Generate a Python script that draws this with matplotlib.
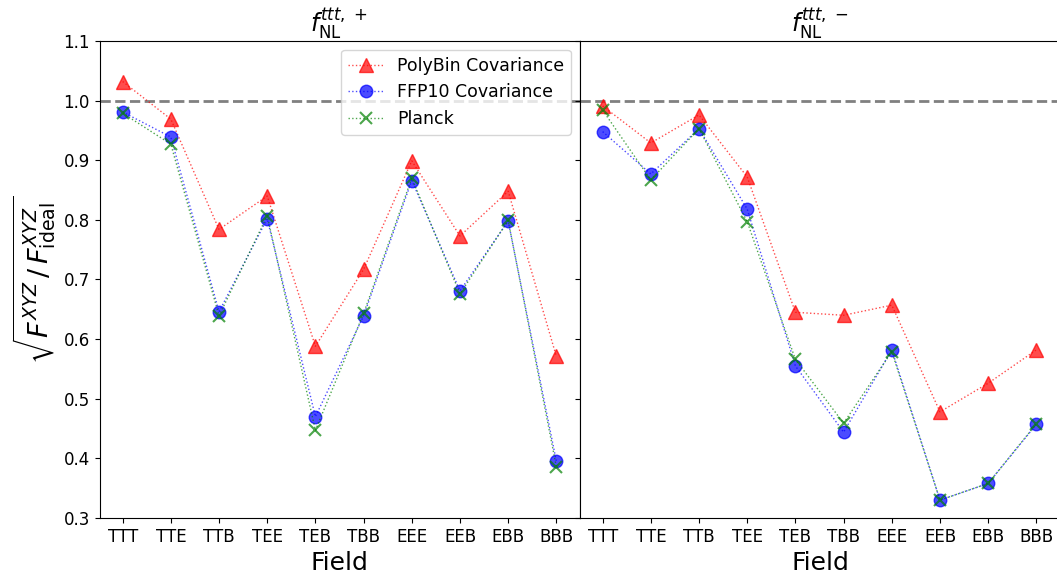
import matplotlib
matplotlib.use("Agg")
import matplotlib.pyplot as plt
import numpy as np

fields = ["TTT", "TTE", "TTB", "TEE", "TEB", "TBB", "EEE", "EEB", "EBB", "BBB"]

# f_NL^{ttt,+}
polybin_plus = [1.032, 0.969, 0.784, 0.840, 0.588, 0.717, 0.899, 0.773, 0.848, 0.571]
ffp10_plus = [0.981, 0.939, 0.646, 0.802, 0.470, 0.639, 0.866, 0.681, 0.798, 0.395]
planck_plus = [0.979, 0.927, 0.639, 0.807, 0.447, 0.643, 0.870, 0.676, 0.799, 0.386]

# f_NL^{ttt,-}
polybin_minus = [0.991, 0.929, 0.976, 0.872, 0.645, 0.640, 0.657, 0.478, 0.526, 0.582]
ffp10_minus = [0.948, 0.877, 0.953, 0.818, 0.555, 0.444, 0.582, 0.330, 0.358, 0.457]
planck_minus = [0.984, 0.867, 0.953, 0.797, 0.566, 0.459, 0.579, 0.330, 0.358, 0.458]

titles = [r"$f_{\rm NL}^{ttt,\,+}$", r"$f_{\rm NL}^{ttt,\,-}$"]

W, H = 1057, 582
fig = plt.figure(figsize=(W / 100, H / 100), dpi=100)
bottom = (H - 518) / H
height = (518 - 41) / H
ax1 = fig.add_axes([99.5 / W, bottom, 480 / W, height])
ax2 = fig.add_axes([579.5 / W, bottom, 482 / W, height], sharey=ax1)

x = np.arange(len(fields))
panels = [(ax1, polybin_plus, ffp10_plus, planck_plus),
          (ax2, polybin_minus, ffp10_minus, planck_minus)]

for i, (ax, pb, ffp, pl) in enumerate(panels):
    ax.axhline(1.0, color="grey", ls="--", lw=2, zorder=0)
    ax.plot(x, pb, ls=":", lw=1, marker="^", ms=9.5, color="red", alpha=0.7,
            label="PolyBin Covariance")
    ax.plot(x, ffp, ls=":", lw=1, marker="o", ms=9, color="blue", alpha=0.7,
            label="FFP10 Covariance")
    ax.plot(x, pl, ls=":", lw=1, marker="x", ms=9, mew=1.5, color="green",
            alpha=0.7, label="Planck")
    ax.set_xticks(x)
    ax.set_xticklabels(fields, fontsize=12)
    ax.tick_params(axis="y", labelsize=12)
    ax.set_xlabel("Field", fontsize=18)
    ax.set_title(titles[i], fontsize=17)

ax1.set_xlim(-0.48, 9.48)
ax2.set_xlim(-0.48, 9.48 + 2 / 48.2)
ax1.set_ylim(0.3, 1.1)
ax1.set_yticks(np.arange(0.3, 1.11, 0.1))
ax2.tick_params(axis="y", labelleft=False)
ax1.set_ylabel(r"$\sqrt{F^{XYZ}\,/\,F^{XYZ}_{\rm ideal}}$", fontsize=19.5)
ax1.legend(loc="upper right", fontsize=12.5)

fig.savefig("out.png", dpi=100)
